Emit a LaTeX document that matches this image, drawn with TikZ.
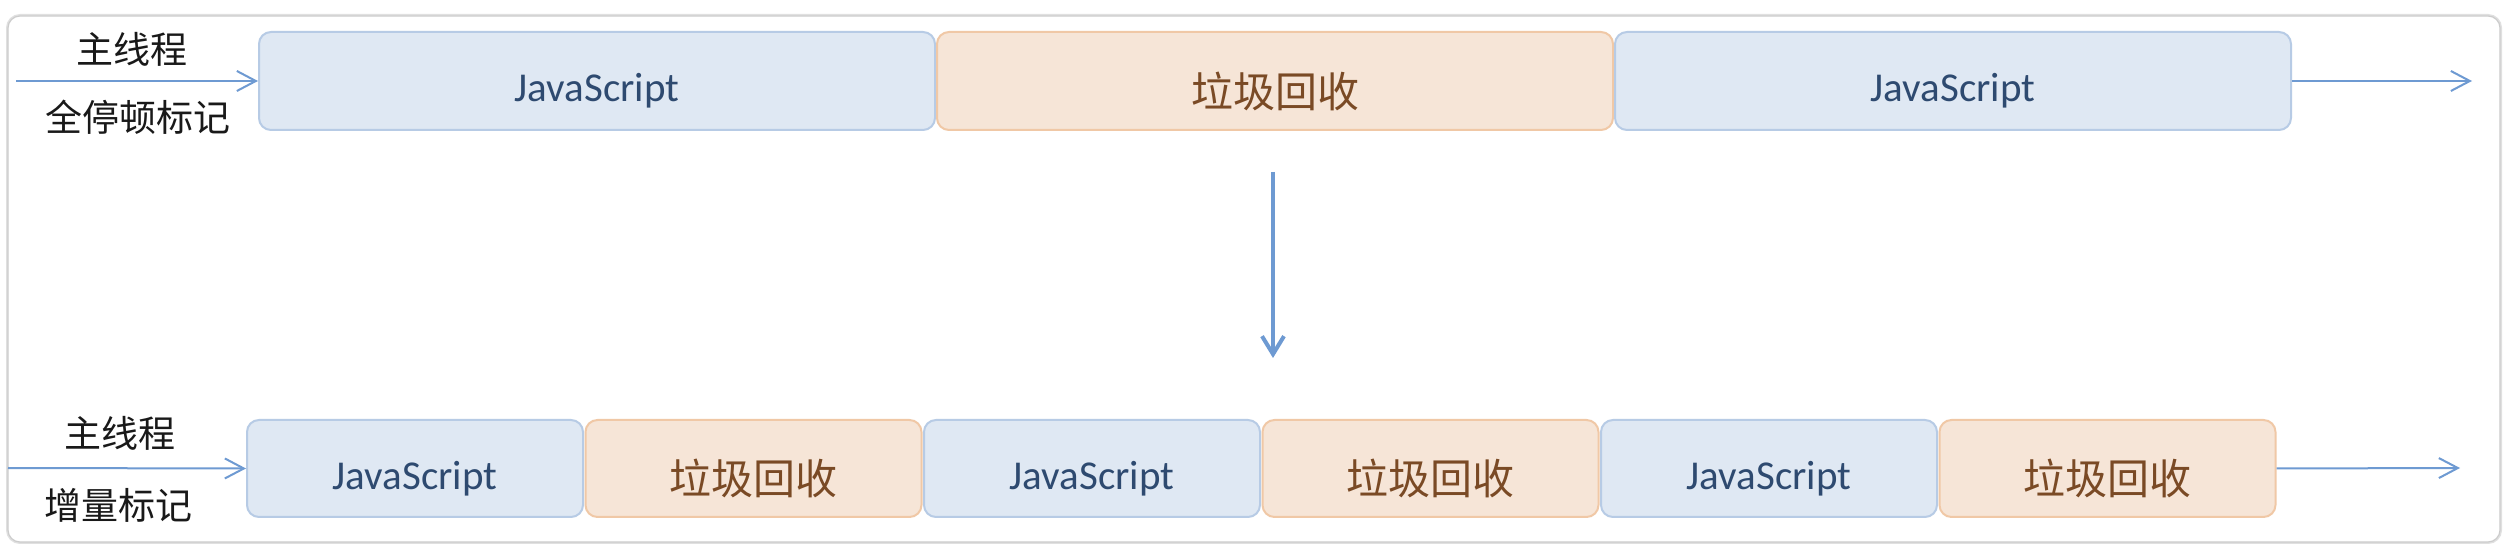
\documentclass[tikz,border=0pt]{standalone}
\usepackage{fontspec}
\setmainfont{Carlito}
\newfontfamily\cjk{Noto Sans CJK SC}
\usetikzlibrary{arrows.meta}
\definecolor{jsfill}{HTML}{DFE8F3}
\definecolor{jsdraw}{HTML}{B7CBE5}
\definecolor{jstext}{HTML}{2E4A70}
\definecolor{gcfill}{HTML}{F6E5D7}
\definecolor{gcdraw}{HTML}{F0C8A6}
\definecolor{gctext}{HTML}{7A4A25}
\definecolor{arrowc}{HTML}{6E9AD2}
\newcommand\lowtext[1]{\raisebox{-5pt}[\height][\depth]{#1}}
\tikzset{
  jsbox/.style={draw=jsdraw, fill=jsfill, line width=1pt, rounded corners=6pt,
    text=jstext, font=\fontsize{20.5}{24}\selectfont, inner sep=0pt},
  gcbox/.style={draw=gcdraw, fill=gcfill, line width=1pt, rounded corners=6pt,
    text=gctext, font=\cjk\fontsize{21}{24}\selectfont, inner sep=0pt},
  wide/.style={minimum width=338pt, minimum height=49pt},
  narrow/.style={minimum width=168pt, minimum height=48.5pt},
  lbl/.style={font=\cjk\fontsize{18.5}{22}\selectfont, text=black!90, inner sep=0pt},
  harrow/.style={draw=arrowc, line width=1pt, -{Straight Barb[length=9.5pt,width=10pt,line width=1pt]}},
  varrow/.style={draw=arrowc, line width=2pt, -{Straight Barb[length=9pt,width=11pt,line width=2pt]}},
}
\begin{document}
\begin{tikzpicture}[x=0.5pt,y=-0.5pt]
\useasboundingbox (0,0) rectangle (2512,550);
\fill[white] (0,0) rectangle (2512,550);
\draw[black!12, line width=2pt, rounded corners=6pt] (8,16) rectangle (2500,542);
\draw[black!20, line width=0.6pt, rounded corners=6pt, fill=white] (8,16) rectangle (2500,542);

% top row
\node[jsbox, wide] (t1) at (597,81) {\lowtext{JavaScript}};
\node[gcbox, wide] (t2) at (1275,81) {\lowtext{垃圾回收}};
\node[jsbox, wide] (t3) at (1953,81) {\lowtext{JavaScript}};
\node[lbl] (tl1) at (132,49) {主线程};
\node[lbl] (tl2) at (138,117) {全停顿标记};
\coordinate (tin) at (16,81);
\coordinate (tout) at (2472,81);
\draw[harrow] (tin) -- (t1.west);
\draw[harrow] (t3.east) -- (tout);

% vertical arrow
\coordinate (vs) at (1273,172);
\coordinate (ve) at (1273,358);
\draw[varrow] (vs) -- (ve);

% bottom row
\node[jsbox, narrow] (b1) at (415,468.5) {\lowtext{JavaScript}};
\node[gcbox, narrow] (b2) at (753.5,468.5) {\lowtext{垃圾回收}};
\node[jsbox, narrow] (b3) at (1092,468.5) {\lowtext{JavaScript}};
\node[gcbox, narrow] (b4) at (1430.5,468.5) {\lowtext{垃圾回收}};
\node[jsbox, narrow] (b5) at (1769,468.5) {\lowtext{JavaScript}};
\node[gcbox, narrow] (b6) at (2107.5,468.5) {\lowtext{垃圾回收}};
\node[lbl] (bl1) at (120,433) {主线程};
\node[lbl] (bl2) at (118,505) {增量标记};
\coordinate (bin) at (8,468);
\coordinate (bout) at (2460,468);
\draw[harrow] (bin) -- (b1.west);
\draw[harrow] (b6.east) -- (bout);
\end{tikzpicture}
\end{document}
